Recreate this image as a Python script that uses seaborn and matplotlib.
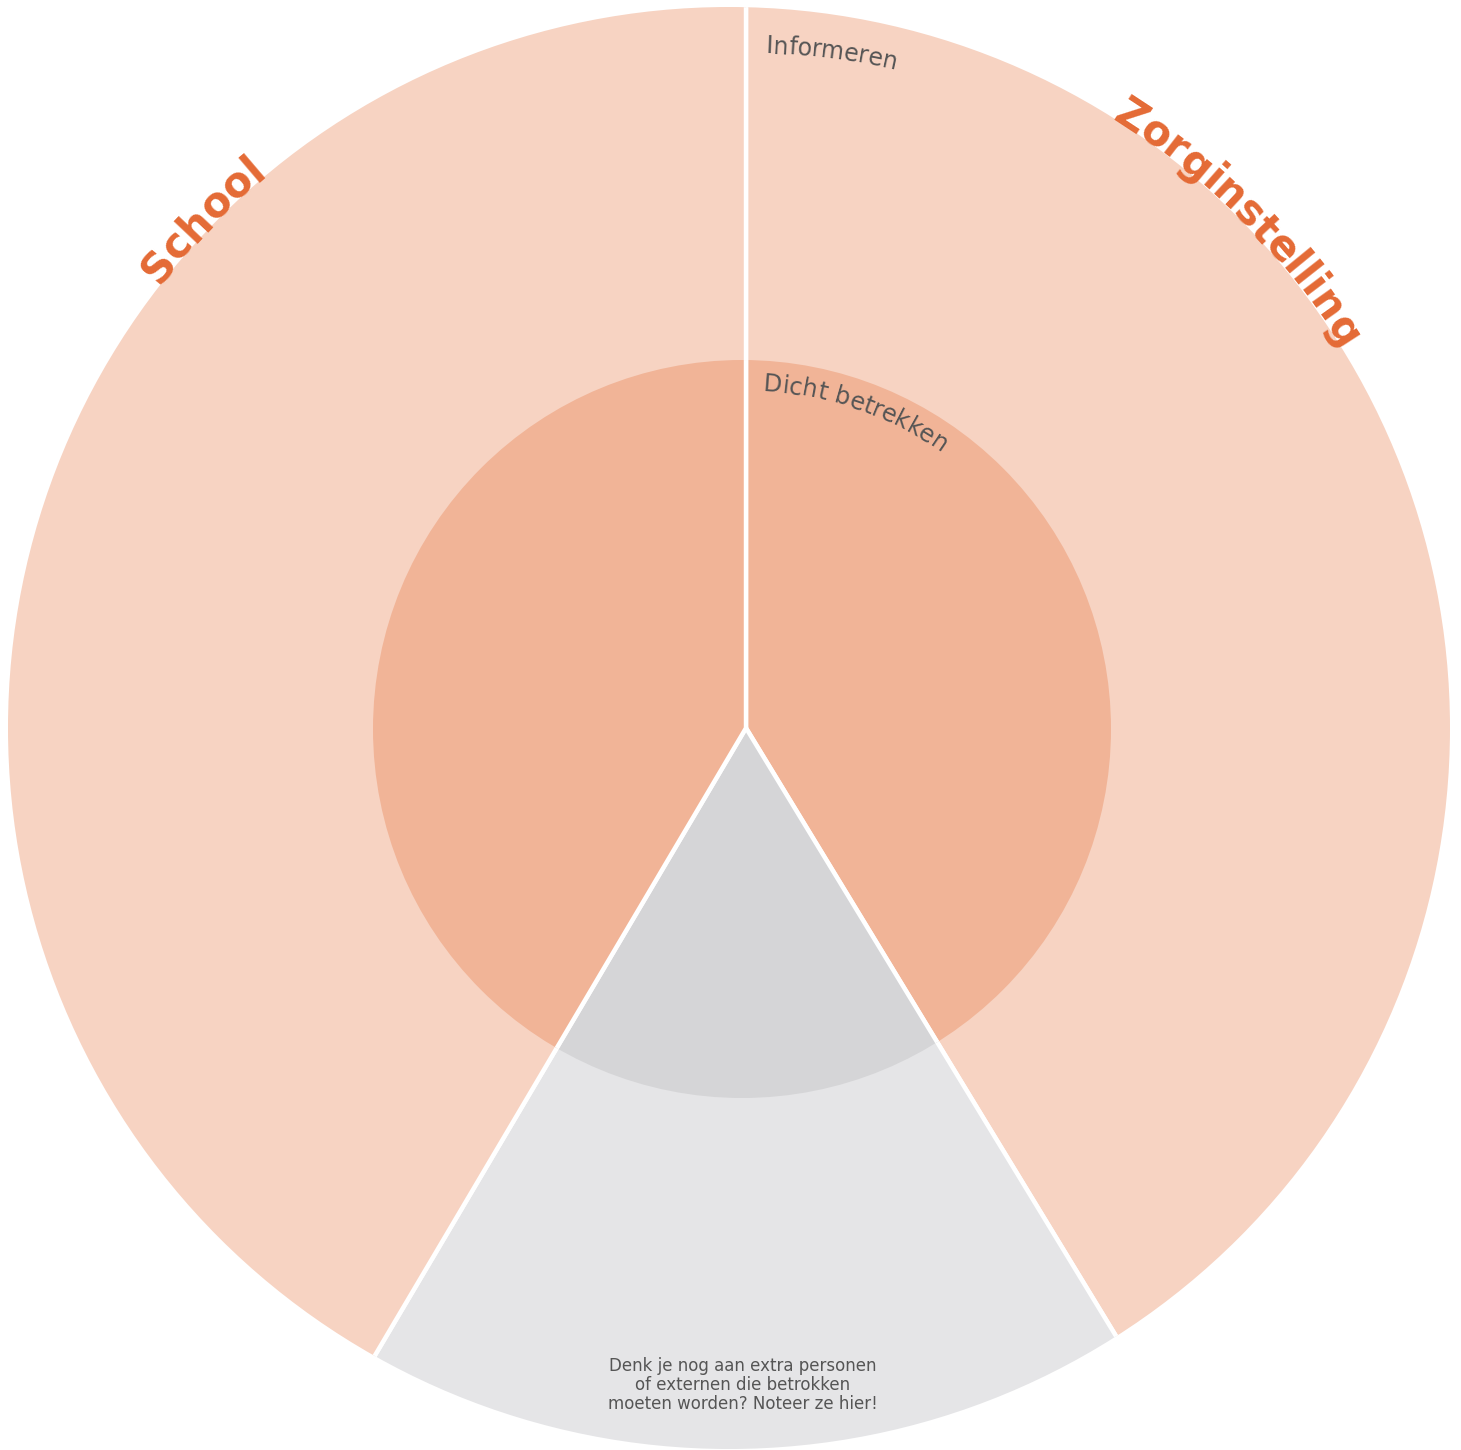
import numpy as np
import matplotlib
matplotlib.use("Agg")
import matplotlib.pyplot as plt
from matplotlib.patches import Circle
from matplotlib.font_manager import FontProperties
import seaborn as sns

# ring segments, clockwise from the top (shares in %)
segments = ["Zorginstelling", "Extra", "School"]
shares = [41.3, 17.2, 41.5]
outer_colors = ["#f7d3c2", "#e5e5e7", "#f7d3c2"]
inner_colors = ["#f1b497", "#d5d5d7", "#f1b497"]

ring_labels = ["Informeren", "Dicht betrekken"]
group_labels = ["Zorginstelling", "School"]
note_lines = [
    "Denk je nog aan extra personen",
    "of externen die betrokken",
    "moeten worden? Noteer ze hier!",
]

W, H = 1461, 1450
ORANGE = "#e46a35"
GREY_TXT = "#555555"

sns.set_theme(style="white")
plt.rcParams["font.family"] = ["DejaVu Sans"]

fig = plt.figure(figsize=(W / 100, H / 100), dpi=100)
ax = fig.add_axes([0, 0, 1, 1])

apex = (746, 722)
outer_c, r_out = (729, 722), 721
inner_c, r_in = (742, 721), 369

wp = dict(edgecolor="white", linewidth=3.2)
outer, _ = ax.pie(shares, colors=outer_colors, radius=r_out + 40, center=apex,
                  startangle=90, counterclock=False, wedgeprops=wp)
inner, _ = ax.pie(shares, colors=inner_colors, radius=r_in + 30, center=apex,
                  startangle=90, counterclock=False, wedgeprops=wp)

# the outer and inner discs are not quite centred on the split point
clip_out = Circle(outer_c, r_out, transform=ax.transData)
clip_in = Circle(inner_c, r_in, transform=ax.transData)
for w in outer:
    w.set_clip_on(True)
    w.set_clip_path(clip_out)
for w in inner:
    w.set_clip_on(True)
    w.set_clip_path(clip_in)

ax.set_xlim(0, W)
ax.set_ylim(0, H)
ax.set_aspect("equal")
ax.axis("off")

renderer = fig.canvas.get_renderer()


def text_width(s, fp):
    w, _, _ = renderer.get_text_width_height_descent(s, fp, ismath=False)
    return w


def arc_text(s, center, r, size, color, weight="normal", start=None, mid=None):
    """Lay text clockwise along a circle; angles in degrees from the top."""
    fp = FontProperties(family="DejaVu Sans", size=size, weight=weight)
    total = text_width(s, fp)
    if start is None:
        start = mid - np.degrees(total / (2 * r))
    for i, ch in enumerate(s):
        if ch == " ":
            continue
        off = text_width(s[: i + 1], fp) - text_width(ch, fp) / 2
        th = np.radians(start) + off / r
        x = center[0] + r * np.sin(th)
        y = center[1] + r * np.cos(th)
        ax.text(x, y, ch, fontproperties=fp, color=color, ha="center",
                va="baseline", rotation=-np.degrees(th), rotation_mode="anchor")


arc_text(ring_labels[0], apex, 675, 17, GREY_TXT, start=1.7)
arc_text(ring_labels[1], apex, 337, 17.3, GREY_TXT, start=2.9)
arc_text(group_labels[0], outer_c, 719, 30, ORANGE, weight="bold", mid=45.2)
arc_text(group_labels[1], outer_c, 721, 30, ORANGE, weight="bold", mid=-46)

ax.text(743, H - 1385, "\n".join(note_lines), ha="center", va="center",
        multialignment="center", fontsize=12, color=GREY_TXT, linespacing=1.1)

fig.savefig("out.png", dpi=100)
